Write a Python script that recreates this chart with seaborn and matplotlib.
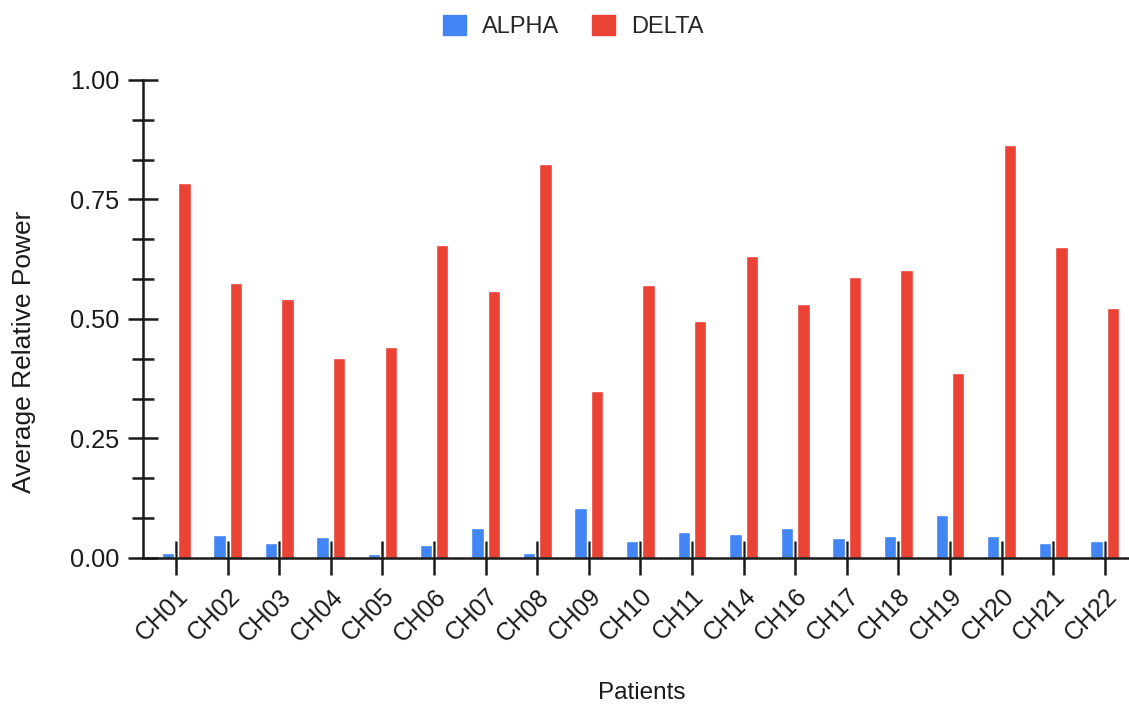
import numpy as np
import pandas as pd
import matplotlib
matplotlib.use('Agg')
import matplotlib.pyplot as plt
from matplotlib.ticker import MultipleLocator, FormatStrFormatter
import seaborn as sns

patients = ["CH01", "CH02", "CH03", "CH04", "CH05", "CH06", "CH07", "CH08", "CH09", "CH10",
            "CH11", "CH14", "CH16", "CH17", "CH18", "CH19", "CH20", "CH21", "CH22"]
alpha = [0.010, 0.048, 0.031, 0.043, 0.009, 0.027, 0.062, 0.010, 0.105, 0.036,
         0.055, 0.050, 0.062, 0.041, 0.045, 0.090, 0.045, 0.032, 0.036]
delta = [0.785, 0.575, 0.542, 0.418, 0.441, 0.655, 0.559, 0.824, 0.349, 0.571,
         0.496, 0.632, 0.531, 0.588, 0.602, 0.387, 0.864, 0.651, 0.523]
bands = ["ALPHA", "DELTA"]
colors = {"ALPHA": "#4285F4", "DELTA": "#EA4335"}

df = pd.DataFrame({
    "Patients": patients * 2,
    "power": alpha + delta,
    "band": ["ALPHA"] * len(patients) + ["DELTA"] * len(patients),
})

sns.set_style("ticks")
plt.rcParams['font.family'] = ['Liberation Sans', 'DejaVu Sans']

fig = plt.figure(figsize=(11.29, 7.04), dpi=100)
ax = fig.add_axes([0.1267, 0.2074, 0.8733, 0.6790])

sns.barplot(data=df, x="Patients", y="power", hue="band", hue_order=bands,
            palette=colors, width=0.64, gap=0.25, saturation=1, ax=ax)

ax.set_ylim(0, 1.0)
ax.set_xlim(-0.64, 18.47)
ax.yaxis.set_major_locator(MultipleLocator(0.25))
ax.yaxis.set_minor_locator(MultipleLocator(1 / 12))
ax.yaxis.set_major_formatter(FormatStrFormatter('%.2f'))

for s in ["top", "right"]:
    ax.spines[s].set_visible(False)
for s in ["left", "bottom"]:
    ax.spines[s].set_linewidth(1.8)
    ax.spines[s].set_color("#1a1a1a")

ax.tick_params(axis='y', which='major', direction='inout', length=22, width=1.8,
               labelsize=18.3, colors="#1a1a1a", pad=6)
ax.tick_params(axis='y', which='minor', direction='inout', length=16, width=1.8, colors="#1a1a1a")
ax.tick_params(axis='x', which='major', direction='inout', length=24, width=1.8,
               labelsize=17.8, colors="#1a1a1a", pad=7)
plt.setp(ax.get_xticklabels(), rotation=45, ha='right', rotation_mode='anchor')

ax.set_xlabel("Patients", fontsize=17.5, color="#1a1a1a")
ax.xaxis.set_label_coords(0.506, -0.26)
ax.set_ylabel("Average Relative Power", fontsize=19, color="#1a1a1a")
ax.yaxis.set_label_coords(-0.109, 0.431)

ax.legend_.remove()
handles = [plt.Rectangle((0, 0), 1, 1, color=colors[b]) for b in bands]
fig.legend(handles, bands, loc='center', bbox_to_anchor=(0.5075, 0.962), ncol=2,
           frameon=False, fontsize=17, handlelength=1.0, handleheight=0.95,
           handletextpad=0.65, columnspacing=1.4)

fig.savefig("out.png", dpi=100)
plt.close(fig)
